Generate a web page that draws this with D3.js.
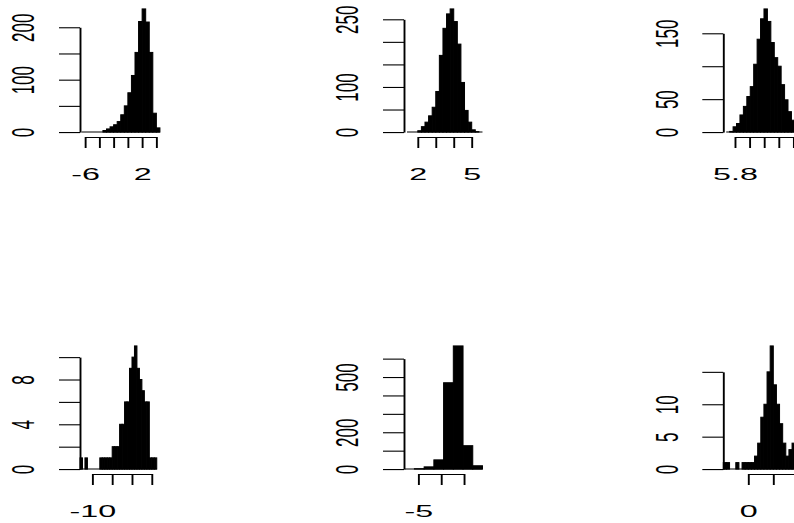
<!DOCTYPE html>
<html>
<head>
<meta charset="utf-8">
<script src="https://cdn.jsdelivr.net/npm/d3@7"></script>
<style>
  body { margin: 0; background: #fff; }
  svg { display: block; }
</style>
</head>
<body>
<script>
// bin counts (row by row)
const counts1 = [0,0,0,0,0,0,3,6,10,14,20,33,50,75,108,152,211,235,210,152,36,8];
const counts2 = [0,0,0,3,12,22,36,55,90,170,230,262,273,245,195,110,48,22,5,1,0];
const counts3 = [0,1,8,13,26,39,54,69,103,141,172,187,168,136,113,100,72,49,31,18,8,3];
const counts4 = [1,0,1,0,0,0,0,0,1,1,1,1,1,2,2,2,4,4,6,6,9,10,11,9,8,7,6,6,1,1,1];
const counts5 = [0,2,12,50,469,669,127,18];
const counts6 = [1,1,0,0,1,0,1,1,1,1,2,4,8,10,15,19,13,10,7,4,2,3,4,2,1,1];
const allCounts = [counts1, counts2, counts3, counts4, counts5, counts6];

// first break and bin width of each histogram
const breakStart = [-6.5, 1.4, 5.74, -11.25, -5.6, -2];
const breakStep = [0.5, 0.2, 0.0235, 0.25, 0.426, 0.25];
const xLims = [[-6.72, 4.72], [1.232, 5.768], [5.72, 6.278], [-11.25, -3.02], [-5.63, -2.06], [-2, 4.52]];

const xTicks = [[-6,-4,-2,0,2,4], [2,3,4,5], [5.8,5.9,6.0,6.1,6.2], [-10,-8,-6,-4], [-5,-4,-3], [0,2,4]];
const xTickLabels = [["-6","","","","2",""], ["2","","","5"], ["5.8","","","",""], ["-10","","",""], ["-5","",""], ["0","",""]];
const yTicks = [[0,50,100,150,200], [0,50,100,150,200,250], [0,50,100,150], [0,2,4,6,8,10], [0,100,200,300,400,500,600], [0,5,10,15]];
const yTickLabels = [["0","","100","","200"], ["0","","100","","","250"], ["0","50","","150"], ["0","","4","","8",""], ["0","","200","","","500",""], ["0","5","10",""]];

const W = 794, H = 523;
const colLeft = [80, 404, 723.3], rowTop = [4, 341];
const plotW = 81.5, plotH = 133;
const sx = 1.9; // the picture is stretched sideways
const font = "Liberation Sans, Arial, sans-serif";

const svg = d3.select("body").append("svg")
  .attr("width", W)
  .attr("height", H)
svg.append("rect").attr("width", W).attr("height", H).attr("fill", "#fff")

allCounts.forEach((counts, i) => {
  const left = colLeft[i % 3];
  const top = rowTop[Math.floor(i / 3)];
  const bottom = top + plotH;
  const x = d3.scaleLinear().domain(xLims[i]).range([left, left + plotW]);
  const ymax = d3.max(counts);
  const y = d3.scaleLinear().domain([-0.04 * ymax, 1.04 * ymax]).range([bottom, top]);
  const breaks = d3.range(counts.length + 1).map(k => breakStart[i] + k * breakStep[i]);

  const g = svg.append("g");

  // bars (empty bins only show the baseline)
  g.append("line")
    .attr("x1", x(breaks[0])).attr("x2", x(breaks[breaks.length - 1]))
    .attr("y1", y(0)).attr("y2", y(0))
    .attr("stroke", "#000").attr("stroke-width", 1.1);
  g.selectAll("rect.bar").data(counts).join("rect")
    .attr("class", "bar")
    .attr("x", (d, k) => x(breaks[k]))
    .attr("width", (d, k) => x(breaks[k + 1]) - x(breaks[k]))
    .attr("y", d => y(d))
    .attr("height", d => y(0) - y(d))
    .attr("fill", "#000")
    .attr("stroke", d => d > 0 ? "#000" : "none")
    .attr("stroke-width", 1);

  // y axis, line only from first to last tick
  const yt = yTicks[i];
  const ya = g.append("g")
    .attr("transform", `translate(${left},0)`)
    .call(d3.axisLeft(y).tickValues(yt).tickFormat((d, k) => yTickLabels[i][k]).tickSize(21).tickSizeOuter(0))
    .attr("font-size", 17).attr("font-family", font);
  ya.select(".domain")
    .attr("d", `M0.5,${y(yt[0]) + 0.5}V${y(yt[yt.length - 1]) + 0.5}`)
    .attr("stroke-width", 1.9);
  ya.selectAll(".tick line").attr("stroke-width", 1.1);
  ya.selectAll(".tick text")
    .attr("x", 0).attr("dy", "0.35em")
    .attr("text-anchor", "middle")
    .attr("transform", `translate(-57,0) scale(${sx},1) rotate(-90)`);

  // x axis
  const xt = xTicks[i];
  const xa = g.append("g")
    .attr("transform", `translate(0,${bottom})`)
    .call(d3.axisBottom(x).tickValues(xt).tickFormat((d, k) => xTickLabels[i][k]).tickSize(11).tickSizeOuter(0))
    .attr("font-size", 17).attr("font-family", font);
  xa.select(".domain")
    .attr("d", `M${x(xt[0]) + 0.5},0.5H${x(xt[xt.length - 1]) + 0.5}`)
    .attr("stroke-width", 1.1);
  xa.selectAll(".tick line").attr("stroke-width", 1.9);
  xa.selectAll(".tick text")
    .attr("y", 0).attr("dy", "0.35em")
    .attr("text-anchor", "middle")
    .attr("transform", `translate(0,37) scale(${sx},1)`);
});
</script>
</body>
</html>
